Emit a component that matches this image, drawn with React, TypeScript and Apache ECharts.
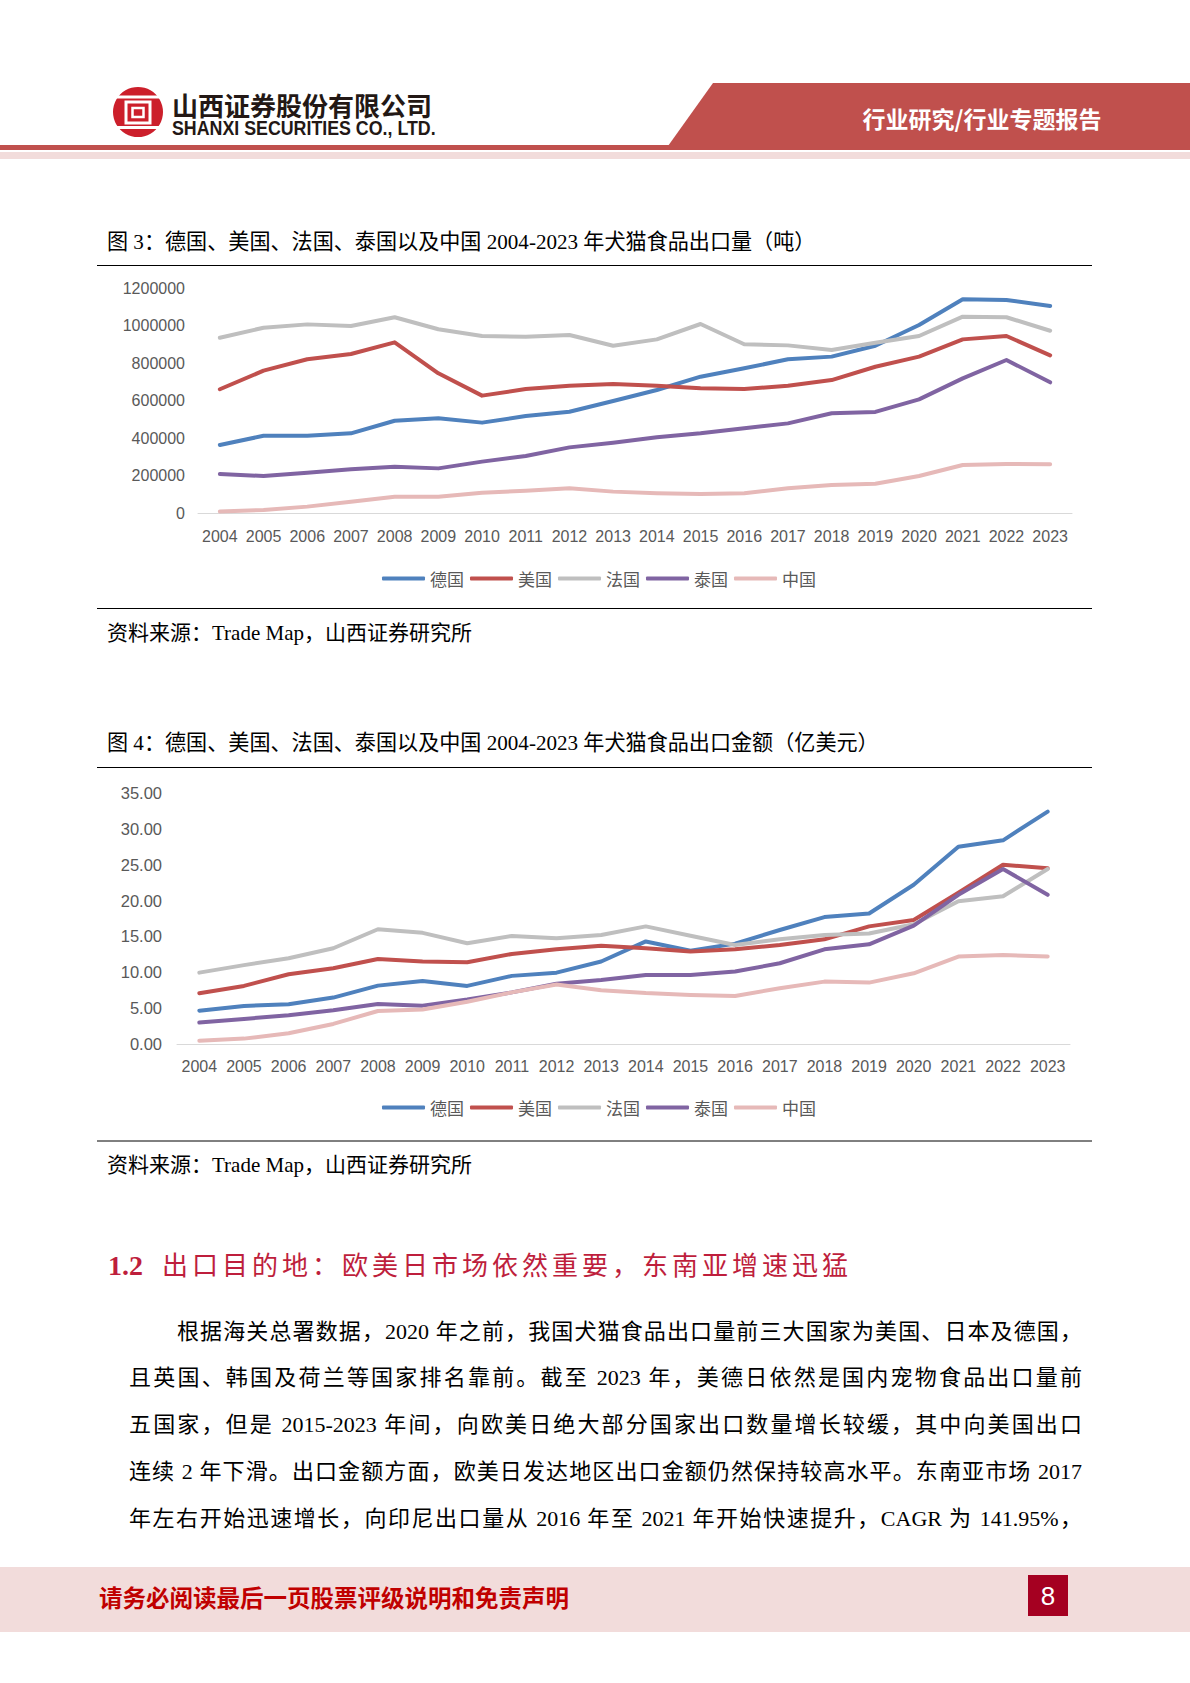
import React, { useEffect, useRef } from 'react';
import * as echarts from 'echarts';

// ---------- data ----------
const years = ['2004', '2005', '2006', '2007', '2008', '2009', '2010', '2011', '2012', '2013', '2014', '2015', '2016', '2017', '2018', '2019', '2020', '2021', '2022', '2023'];
const seriesNames = ['德国', '美国', '法国', '泰国', '中国'];
const seriesColors = ['#4f81bd', '#c0504d', '#bfbfbf', '#8064a2', '#e6b9b8'];

// 出口量（吨）
const volumeGermany = [363000, 412000, 412000, 425000, 492000, 505000, 482000, 517000, 540000, 597000, 656000, 727000, 772000, 820000, 834000, 892000, 1003000, 1140000, 1136000, 1104000];
const volumeUSA = [660000, 759000, 820000, 848000, 910000, 745000, 626000, 661000, 679000, 688000, 679000, 665000, 661000, 679000, 709000, 780000, 834000, 926000, 944000, 841000];
const volumeFrance = [935000, 988000, 1006000, 997000, 1044000, 980000, 944000, 940000, 949000, 892000, 926000, 1008000, 900000, 894000, 869000, 908000, 944000, 1047000, 1044000, 972000];
const volumeThailand = [208000, 197000, 215000, 233000, 247000, 238000, 274000, 304000, 350000, 375000, 404000, 425000, 452000, 478000, 532000, 539000, 606000, 718000, 816000, 697000];
const volumeChina = [8000, 16000, 34000, 60000, 87000, 87000, 108000, 119000, 132000, 114000, 105000, 101000, 105000, 132000, 149000, 156000, 197000, 256000, 261000, 260000];

// 出口金额（亿美元）
const valueGermany = [4.65, 5.3, 5.53, 6.47, 8.14, 8.8, 8.1, 9.5, 9.95, 11.5, 14.3, 13.0, 14.0, 15.9, 17.7, 18.2, 22.2, 27.5, 28.4, 32.4];
const valueUSA = [7.07, 8.1, 9.72, 10.56, 11.86, 11.5, 11.4, 12.56, 13.2, 13.7, 13.35, 12.9, 13.2, 13.8, 14.6, 16.4, 17.3, 21.1, 25.0, 24.5];
const valueFrance = [9.95, 11.0, 11.95, 13.35, 16.0, 15.5, 14.05, 15.07, 14.74, 15.2, 16.4, 15.1, 13.8, 14.6, 15.2, 15.4, 16.7, 19.9, 20.6, 24.4];
const valueThailand = [3.0, 3.5, 4.0, 4.7, 5.58, 5.35, 6.2, 7.2, 8.4, 8.93, 9.63, 9.63, 10.1, 11.26, 13.2, 13.9, 16.5, 20.8, 24.4, 20.8];
const valueChina = [0.45, 0.75, 1.5, 2.8, 4.6, 4.8, 5.9, 7.2, 8.3, 7.5, 7.1, 6.84, 6.7, 7.77, 8.7, 8.56, 9.86, 12.2, 12.4, 12.2];

const volumeAxisMin = 0;
const volumeAxisMax = 1200000;
const volumeAxisStep = 200000;
const valueAxisMin = 0;
const valueAxisMax = 35;
const valueAxisStep = 5;

const chart1Title = '图 3：德国、美国、法国、泰国以及中国 2004-2023 年犬猫食品出口量（吨）';
const chart2Title = '图 4：德国、美国、法国、泰国以及中国 2004-2023 年犬猫食品出口金额（亿美元）';
const sourceText = '资料来源：Trade Map，山西证券研究所';
const sectionNumber = '1.2';
const sectionTitle = '出口目的地：欧美日市场依然重要，东南亚增速迅猛';
const paragraphLines = [
  '根据海关总署数据，2020 年之前，我国犬猫食品出口量前三大国家为美国、日本及德国，',
  '且英国、韩国及荷兰等国家排名靠前。截至 2023 年，美德日依然是国内宠物食品出口量前',
  '五国家，但是 2015-2023 年间，向欧美日绝大部分国家出口数量增长较缓，其中向美国出口',
  '连续 2 年下滑。出口金额方面，欧美日发达地区出口金额仍然保持较高水平。东南亚市场 2017',
  '年左右开始迅速增长，向印尼出口量从 2016 年至 2021 年开始快速提升，CAGR 为 141.95%，',
];

const CJK = "'Noto Sans CJK SC'";
const SERIF_CJK = "'Liberation Serif', 'Noto Sans CJK SC'";
const SANS = "'Liberation Sans', 'Noto Sans CJK SC'";

function txt(x: number, y: number, text: string, fontSize: number, fill: string, fontFamily: string, opts: any = {}) {
  const align = opts.align || 'left';
  return {
    type: 'text',
    x,
    y,
    scaleX: opts.scaleX || 1,
    silent: true,
    style: {
      text,
      fontSize,
      fill,
      fontFamily,
      fontWeight: opts.fontWeight || 'normal',
      align,
      verticalAlign: 'middle',
      textAlign: align,
      textVerticalAlign: 'middle',
    },
  };
}

function hline(x1: number, x2: number, y: number, color: string, w = 1) {
  return { type: 'line', silent: true, shape: { x1, y1: y, x2, y2: y }, style: { stroke: color, lineWidth: w } };
}

export default function App() {
  const ref = useRef<HTMLDivElement>(null);

  useEffect(() => {
    if (!ref.current) return;
    const chart = echarts.init(ref.current, undefined, { renderer: 'svg' });

    const volumeData = [volumeGermany, volumeUSA, volumeFrance, volumeThailand, volumeChina];
    const valueData = [valueGermany, valueUSA, valueFrance, valueThailand, valueChina];

    const mkSeries = (data: number[][], axisIndex: number) =>
      data.map((d, i) => ({
        name: seriesNames[i],
        type: 'line',
        xAxisIndex: axisIndex,
        yAxisIndex: axisIndex,
        data: d,
        showSymbol: false,
        symbol: 'none',
        color: seriesColors[i],
        lineStyle: { width: 4, color: seriesColors[i], cap: 'round', join: 'round' },
        silent: true,
      }));

    const legendBase = {
      data: seriesNames,
      icon: 'roundRect',
      itemWidth: 43,
      itemHeight: 4,
      itemGap: 6,
      textStyle: { color: '#595959', fontSize: 17, fontFamily: CJK },
      selectedMode: false,
    };

    const xAxisBase = {
      type: 'category',
      data: years,
      boundaryGap: true,
      axisLine: { show: true, lineStyle: { color: '#d9d9d9', width: 1 } },
      axisTick: { show: false },
      axisLabel: { color: '#595959', fontSize: 16, fontFamily: SANS, interval: 0 },
      splitLine: { show: false },
    };

    const graphic: any[] = [
      // header
      { type: 'polygon', silent: true, shape: { points: [[713, 83], [1190, 83], [1190, 146], [668, 146]] }, style: { fill: '#c0504d' } },
      { type: 'rect', silent: true, shape: { x: 0, y: 145, width: 1190, height: 5 }, style: { fill: '#c0504d' } },
      { type: 'rect', silent: true, shape: { x: 0, y: 152, width: 1190, height: 7 }, style: { fill: '#f2dcdb' } },
      // logo
      { type: 'circle', silent: true, shape: { cx: 138, cy: 112, r: 25 }, style: { fill: '#cc1f2b' } },
      { type: 'rect', silent: true, shape: { x: 126, y: 102, width: 24, height: 21 }, style: { fill: 'none', stroke: '#ffffff', lineWidth: 3 } },
      { type: 'rect', silent: true, shape: { x: 132.5, y: 108, width: 11, height: 9 }, style: { fill: 'none', stroke: '#ffffff', lineWidth: 2.5 } },
      hline(114, 162, 97, '#ffffff', 3),
      hline(114, 162, 127.5, '#ffffff', 3),
      txt(172, 104, '山西证券股份有限公司', 26, '#231815', CJK, { fontWeight: 'bold' }),
      txt(172, 128, 'SHANXI SECURITIES CO., LTD.', 20, '#231815', "'Liberation Sans'", { fontWeight: 'bold', scaleX: 0.89 }),
      txt(982, 118, '行业研究/行业专题报告', 23, '#ffffff', CJK, { fontWeight: 'bold', align: 'center' }),

      // chart 1 frame
      txt(107, 242, chart1Title, 21.1, '#000000', SERIF_CJK),
      hline(97, 1092, 265.5, '#000000', 1),
      hline(97, 1092, 608.5, '#000000', 1),
      txt(107, 633, sourceText, 21, '#000000', SERIF_CJK),

      // chart 2 frame
      txt(107, 743, chart2Title, 21.1, '#000000', SERIF_CJK),
      hline(97, 1092, 767.5, '#000000', 1),
      hline(97, 1092, 1141, '#000000', 1),
      txt(107, 1165, sourceText, 21, '#000000', SERIF_CJK),

      // footer
      { type: 'rect', silent: true, shape: { x: 0, y: 1567, width: 1190, height: 65 }, style: { fill: '#f2dcdb' } },
      txt(99, 1597, '请务必阅读最后一页股票评级说明和免责声明', 23.5, '#c00000', CJK, { fontWeight: 'bold' }),
      { type: 'rect', silent: true, shape: { x: 1028, y: 1575, width: 40, height: 41 }, style: { fill: '#a50021' } },
      txt(1048, 1596, '8', 26, '#ffffff', "'Liberation Sans'", { align: 'center' }),
    ];

    chart.setOption({
      animation: false,
      backgroundColor: '#ffffff',
      graphic,
      legend: [
        { ...legendBase, left: 377, top: 565 },
        { ...legendBase, left: 377, top: 1094 },
      ],
      grid: [
        { left: 198, top: 288, width: 874, height: 225, containLabel: false, outerBoundsMode: 'none' },
        { left: 177, top: 793, width: 893, height: 251, containLabel: false, outerBoundsMode: 'none' },
      ],
      xAxis: [
        { ...xAxisBase, gridIndex: 0, axisLabel: { ...xAxisBase.axisLabel, margin: 15 } },
        { ...xAxisBase, gridIndex: 1, axisLabel: { ...xAxisBase.axisLabel, margin: 14 } },
      ],
      yAxis: [
        {
          type: 'value',
          gridIndex: 0,
          min: volumeAxisMin,
          max: volumeAxisMax,
          interval: volumeAxisStep,
          axisLine: { show: false },
          axisTick: { show: false },
          splitLine: { show: false },
          axisLabel: { color: '#595959', fontSize: 16, fontFamily: SANS, margin: 13, formatter: (v: number) => String(v) },
        },
        {
          type: 'value',
          gridIndex: 1,
          min: valueAxisMin,
          max: valueAxisMax,
          interval: valueAxisStep,
          axisLine: { show: false },
          axisTick: { show: false },
          splitLine: { show: false },
          axisLabel: { color: '#595959', fontSize: 16.5, fontFamily: SANS, margin: 15, formatter: (v: number) => v.toFixed(2) },
        },
      ],
      series: [...mkSeries(volumeData, 0), ...mkSeries(valueData, 1)],
    });

    return () => chart.dispose();
  }, []);

  const lineCenters = [1332, 1378, 1425, 1472, 1519];

  return (
    <div lang="zh-CN" style={{ position: 'absolute', left: 0, top: 0, width: 1190, height: 1683, background: '#fff', overflow: 'hidden' }}>
      <div ref={ref} style={{ position: 'absolute', left: 0, top: 0, width: 1190, height: 1683 }} />
      <div
        style={{
          position: 'absolute',
          left: 108,
          top: 1264 - 20,
          height: 40,
          lineHeight: '40px',
          whiteSpace: 'nowrap',
          color: '#be1e3c',
          fontFamily: CJK,
          fontSize: 26,
          letterSpacing: '4px',
        }}
      >
        <span style={{ fontFamily: "'Liberation Serif'", fontWeight: 'bold', fontSize: 28, letterSpacing: 0, marginRight: 19 }}>{sectionNumber}</span>
        <span>{sectionTitle}</span>
      </div>
      {paragraphLines.map((line, i) => {
        const left = i === 0 ? 177 : 129;
        return (
          <div
            key={i}
            style={{
              position: 'absolute',
              left,
              width: 1082 - left,
              top: lineCenters[i] - 16,
              height: 32,
              lineHeight: '32px',
              fontSize: 22,
              fontFamily: SERIF_CJK,
              color: '#000',
              textAlign: 'justify',
              textAlignLast: 'justify',
              textJustify: 'inter-character',
            } as any}
          >
            {line}
          </div>
        );
      })}
    </div>
  );
}
